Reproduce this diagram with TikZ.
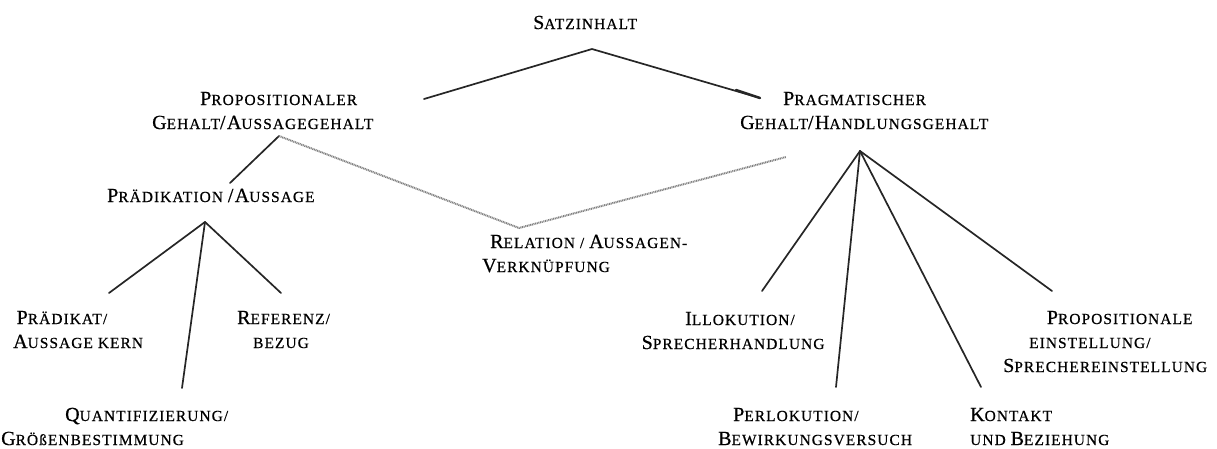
\documentclass[tikz,border=0pt]{standalone}
\usepackage{fontspec}
\setmainfont{Liberation Serif}[LetterSpace=7,FakeBold=0.6]
\newcommand\Bg[1]{{\fontsize{20}{24}\selectfont #1}}
\newcommand\lbl[1]{\begin{tabular}[t]{@{}l@{}}#1\end{tabular}}
\tikzset{
  lab/.style={anchor=base west, inner sep=0pt, font=\fontsize{15.4}{24}\selectfont},
  edge/.style={line width=1.7pt, black!85, line cap=round},
  dotline/.style={line width=2pt, black!50, dash pattern=on 1pt off 0.7pt},
}
\begin{document}
\begin{tikzpicture}[x=1pt,y=-1pt]
\useasboundingbox (0,0) rectangle (1217,448);
% labels
\node[lab] (satz) at (533,29) {\lbl{\Bg{S}ATZINHALT}};
\node[lab] (prop) at (152,105) {\lbl{\hspace*{48pt}\Bg{P}ROPOSITIONALER\\ \Bg{G}EHALT\Bg{/}\Bg{A}USSAGEGEHALT}};
\node[lab] (prag) at (740,105) {\lbl{\hspace*{43pt}\Bg{P}RAGMATISCHER\\ \Bg{G}EHALT\Bg{/}\Bg{H}ANDLUNGSGEHALT}};
\node[lab] (praed) at (107,202) {\lbl{\Bg{P}RÄDIKATION \Bg{/}\Bg{A}USSAGE}};
\node[lab] (rel) at (482,248) {\lbl{\hspace*{8pt}\Bg{R}ELATION / \Bg{A}USSAGEN-\\ \Bg{V}ERKNÜPFUNG}};
\node[lab] (pdk) at (13,324) {\lbl{\hspace*{3.5pt}\Bg{P}RÄDIKAT/\\ \Bg{A}USSAGE KERN}};
\node[lab] (ref) at (237,324) {\lbl{\Bg{R}EFERENZ/\\ \hspace*{16pt}BEZUG}};
\node[lab] (quant) at (1,421) {\lbl{\hspace*{64pt}\Bg{Q}UANTIFIZIERUNG/\\ \Bg{G}RÖßENBESTIMMUNG}};
\node[lab] (illo) at (641.5,325) {\lbl{\hspace*{43.5pt}\Bg{I}LLOKUTION/\\ \Bg{S}PRECHERHANDLUNG}};
\node[lab] (perl) at (718,421) {\lbl{\hspace*{15pt}\Bg{P}ERLOKUTION/\\ \Bg{B}EWIRKUNGSVERSUCH}};
\node[lab] (kont) at (970,421) {\lbl{\Bg{K}ONTAKT\\ UND \Bg{B}EZIEHUNG}};
\node[lab] (pein) at (1003,324) {\lbl{\hspace*{43.7pt}\Bg{P}ROPOSITIONALE\\ \hspace*{26pt}EINSTELLUNG/\\ \Bg{S}PRECHEREINSTELLUNG}};
% connector end points
\coordinate (s0) at (592,49);
\coordinate (s1) at (424,99);
\coordinate (s2m) at (736,90);
\coordinate (s2) at (760,98);
\coordinate (pg) at (279,136);
\coordinate (pa) at (230,183);
\coordinate (rl) at (519,228);
\coordinate (pr) at (786,157);
\coordinate (la) at (205,222);
\coordinate (la1) at (109,293);
\coordinate (la2) at (182,388);
\coordinate (la3) at (281,293);
\coordinate (ra) at (860,151);
\coordinate (ra1) at (762,291);
\coordinate (ra2) at (836,387);
\coordinate (ra3) at (981,387);
\coordinate (ra4) at (1052,291);
% connectors
\draw[edge] (s1) -- (s0) -- (s2);
\draw[edge, line width=2.4pt] (s2m) -- (s2);
\draw[edge] (pg) -- (pa);
\draw[dotline] (pg) -- (rl) -- (pr);
\draw[edge] (la) -- (la1);
\draw[edge] (la) -- (la2);
\draw[edge] (la) -- (la3);
\draw[edge] (ra) -- (ra1);
\draw[edge] (ra) -- (ra2);
\draw[edge] (ra) -- (ra3);
\draw[edge] (ra) -- (ra4);
\end{tikzpicture}
\end{document}
